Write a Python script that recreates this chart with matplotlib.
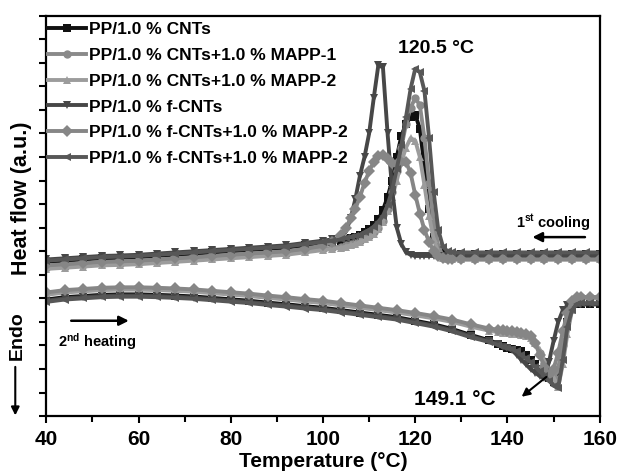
import matplotlib
matplotlib.use("Agg")
import matplotlib.pyplot as plt
from matplotlib.ticker import MultipleLocator

plt.rcParams["font.family"] = ["Liberation Sans", "DejaVu Sans"]
plt.rcParams["font.weight"] = "bold"
plt.rcParams["mathtext.fontset"] = "custom"
plt.rcParams["mathtext.rm"] = "Liberation Sans:bold"
plt.rcParams["mathtext.default"] = "rm"

# ---- data ----
labels = [
    "PP/1.0 % CNTs",
    "PP/1.0 % CNTs+1.0 % MAPP-1",
    "PP/1.0 % CNTs+1.0 % MAPP-2",
    "PP/1.0 % f-CNTs",
    "PP/1.0 % f-CNTs+1.0 % MAPP-2",
    "PP/1.0 % f-CNTs+1.0 % MAPP-2",
]
colors = ["#111111", "#8a8a8a", "#9c9c9c", "#474747", "#868686", "#575757"]
markers = ["s", "o", "^", "v", "D", "<"]

# 1st cooling
t_cool = ([40, 44, 48, 52, 56, 60, 64, 68, 72, 76, 80, 84, 88, 92, 96, 100, 102]
          + list(range(104, 129))
          + [130, 133, 136, 139, 142, 145, 148, 151, 154, 157, 160])

cool_cnt = [6.55, 6.6, 6.65, 6.7, 6.72, 6.75, 6.8, 6.85, 6.9, 6.95, 7.0, 7.05, 7.1, 7.15, 7.25, 7.35, 7.4,
            7.45, 7.5, 7.55, 7.6, 7.7, 7.8, 7.95, 8.1, 8.35, 8.75, 9.3, 10.0, 11.0, 11.9, 12.4, 12.7,
            12.8, 12.2, 10.6, 8.8, 7.6, 7.1, 6.95, 6.9, 6.9,
            6.9, 6.9, 6.9, 6.9, 6.9, 6.9, 6.9, 6.9, 6.9, 6.9, 6.9]
cool_mapp1 = [6.3, 6.35, 6.4, 6.45, 6.47, 6.5, 6.55, 6.6, 6.65, 6.7, 6.75, 6.8, 6.85, 6.9, 7.0, 7.1, 7.15,
              7.2, 7.25, 7.3, 7.35, 7.45, 7.55, 7.65, 7.8, 8.0, 8.3, 8.8, 9.5, 10.4, 11.4, 12.4, 13.1,
              13.5, 13.2, 11.8, 9.9, 8.2, 7.2, 6.8, 6.7, 6.7,
              6.7, 6.7, 6.7, 6.7, 6.7, 6.7, 6.7, 6.7, 6.7, 6.7, 6.7]
cool_mapp2 = [6.25, 6.3, 6.35, 6.4, 6.42, 6.45, 6.5, 6.55, 6.6, 6.65, 6.7, 6.75, 6.8, 6.85, 6.95, 7.05, 7.1,
              7.15, 7.2, 7.25, 7.3, 7.4, 7.5, 7.6, 7.75, 7.95, 8.25, 8.7, 9.3, 10.0, 10.8, 11.4, 11.8,
              11.7, 11.0, 9.8, 8.5, 7.5, 6.95, 6.7, 6.65, 6.65,
              6.65, 6.65, 6.65, 6.65, 6.65, 6.65, 6.65, 6.65, 6.65, 6.65, 6.65]
cool_fcnt = [6.65, 6.7, 6.75, 6.8, 6.82, 6.85, 6.9, 6.95, 7.0, 7.05, 7.1, 7.15, 7.2, 7.25, 7.35, 7.45, 7.5,
             7.6, 7.85, 8.4, 9.2, 10.2, 11.0, 12.0, 13.5, 14.9, 14.8, 12.0, 9.6, 8.0, 7.3, 6.95, 6.85,
             6.8, 6.8, 6.8, 6.8, 6.8, 6.8, 6.8, 6.8, 6.8,
             6.8, 6.8, 6.8, 6.8, 6.8, 6.8, 6.8, 6.8, 6.8, 6.8, 6.8]
cool_fmapp_a = [6.4, 6.45, 6.5, 6.55, 6.57, 6.6, 6.65, 6.7, 6.75, 6.8, 6.85, 6.9, 6.95, 7.0, 7.1, 7.25, 7.4,
                7.7, 8.0, 8.4, 8.8, 9.3, 9.9, 10.4, 10.8, 11.05, 11.1, 10.9, 10.75, 10.7, 10.8, 10.8, 10.3,
                9.4, 8.6, 7.9, 7.4, 7.0, 6.8, 6.7, 6.65, 6.65,
                6.65, 6.65, 6.65, 6.65, 6.65, 6.65, 6.65, 6.65, 6.65, 6.65, 6.65]
cool_fmapp_b = [6.6, 6.65, 6.7, 6.75, 6.77, 6.8, 6.85, 6.9, 6.95, 7.0, 7.05, 7.1, 7.15, 7.2, 7.3, 7.4, 7.45,
                7.5, 7.55, 7.6, 7.65, 7.7, 7.8, 7.9, 8.05, 8.25, 8.5, 8.95, 9.6, 10.5, 11.5, 12.7, 13.9,
                14.75, 14.6, 13.8, 11.8, 9.5, 7.9, 7.2, 7.0, 6.95,
                6.95, 6.95, 6.95, 6.95, 6.95, 6.95, 6.95, 6.95, 6.95, 6.95, 6.95]

# 2nd heating
t_heat = list(range(40, 137, 4)) + list(range(138, 157)) + [158, 160]

heat_cnt = [4.95, 5.05, 5.1, 5.15, 5.17, 5.17, 5.15, 5.12, 5.08, 5.02, 4.96, 4.9, 4.82, 4.75, 4.67, 4.6,
            4.5, 4.4, 4.3, 4.2, 4.05, 3.9, 3.7, 3.45, 3.22,
            3.08, 2.98, 2.9, 2.85, 2.8, 2.75, 2.6, 2.4, 2.2, 2.0, 1.8, 1.6, 1.45, 1.9, 3.0, 4.0, 4.6,
            4.75, 4.75, 4.75, 4.75]
heat_mapp1 = [5.2, 5.3, 5.35, 5.4, 5.42, 5.42, 5.4, 5.37, 5.33, 5.27, 5.21, 5.15, 5.07, 5.0, 4.92, 4.85,
              4.75, 4.65, 4.55, 4.45, 4.33, 4.2, 4.05, 3.85, 3.68,
              3.62, 3.6, 3.58, 3.55, 3.52, 3.5, 3.45, 3.35, 3.1, 2.7, 2.2, 1.8, 1.6, 2.0, 3.0, 4.1, 4.8,
              5.05, 5.05, 5.05, 5.05]
heat_mapp2 = [5.15, 5.25, 5.3, 5.35, 5.37, 5.37, 5.35, 5.32, 5.28, 5.22, 5.16, 5.1, 5.02, 4.95, 4.87, 4.8,
              4.7, 4.6, 4.5, 4.4, 4.28, 4.15, 4.0, 3.8, 3.63,
              3.57, 3.55, 3.53, 3.5, 3.48, 3.45, 3.4, 3.3, 3.1, 2.8, 2.4, 2.0, 1.6, 1.25, 2.2, 3.5, 4.5,
              4.95, 5.0, 5.0, 5.0]
heat_fcnt = [4.9, 5.0, 5.05, 5.1, 5.12, 5.12, 5.1, 5.07, 5.03, 4.97, 4.91, 4.85, 4.77, 4.7, 4.62, 4.55,
             4.45, 4.35, 4.25, 4.15, 4.0, 3.85, 3.65, 3.4, 3.18,
             3.05, 2.95, 2.9, 2.8, 2.6, 2.4, 2.2, 2.0, 1.85, 1.7, 1.6, 2.3, 3.2, 4.0, 4.5, 4.7, 4.75,
             4.75, 4.75, 4.75, 4.75]
heat_fmapp_a = [5.25, 5.35, 5.4, 5.45, 5.47, 5.47, 5.45, 5.42, 5.38, 5.32, 5.26, 5.2, 5.12, 5.05, 4.97, 4.9,
                4.8, 4.7, 4.6, 4.5, 4.38, 4.25, 4.1, 3.9, 3.72,
                3.67, 3.65, 3.62, 3.6, 3.58, 3.55, 3.5, 3.4, 3.1, 2.6, 2.1, 1.75, 2.0, 2.7, 3.6, 4.4, 4.9,
                5.05, 5.05, 5.05, 5.05]
heat_fmapp_b = [4.85, 4.95, 5.0, 5.05, 5.07, 5.07, 5.05, 5.02, 4.98, 4.92, 4.86, 4.8, 4.72, 4.65, 4.57, 4.5,
                4.4, 4.3, 4.2, 4.1, 3.95, 3.8, 3.6, 3.35, 3.15,
                3.02, 2.95, 2.9, 2.85, 2.75, 2.6, 2.45, 2.3, 2.1, 1.9, 1.7, 1.5, 1.3, 1.2, 2.4, 3.8, 4.5,
                4.75, 4.8, 4.8, 4.8]

cool_series = [cool_cnt, cool_mapp1, cool_mapp2, cool_fcnt, cool_fmapp_a, cool_fmapp_b]
heat_series = [heat_cnt, heat_mapp1, heat_mapp2, heat_fcnt, heat_fmapp_a, heat_fmapp_b]

# ---- figure ----
fig = plt.figure(figsize=(6.17, 4.74), dpi=100)
ax = fig.add_axes([0.075, 0.122, 0.897, 0.845])

for i in range(len(labels)):
    ax.plot(t_cool, cool_series[i], color=colors[i], marker=markers[i], ms=6,
            mew=0, lw=2.8, label=labels[i])
    ax.plot(t_heat, heat_series[i], color=colors[i], marker=markers[i], ms=6,
            mew=0, lw=2.8)

ax.set_xlim(40, 160)
ax.set_ylim(0, 17)
ax.xaxis.set_major_locator(MultipleLocator(20))
ax.xaxis.set_minor_locator(MultipleLocator(10))
ax.yaxis.set_major_locator(MultipleLocator(1))
ax.set_yticklabels([])
ax.tick_params(axis="x", which="major", direction="out", length=5, width=1.5,
               labelsize=15, pad=5)
ax.tick_params(axis="x", which="minor", direction="out", length=4, width=1.5)
ax.tick_params(axis="y", direction="out", length=5, width=1.5)
for lab in ax.get_xticklabels():
    lab.set_fontweight("bold")
for s in ax.spines.values():
    s.set_linewidth(1.6)

ax.set_xlabel("Temperature (°C)", fontsize=15, fontweight="bold", labelpad=2)

# y-axis labels drawn by hand
ax.text(-0.045, 0.545, "Heat flow (a.u.)", transform=ax.transAxes, rotation=90,
        ha="center", va="center", fontsize=15.5, fontweight="bold")
ax.text(-0.052, 0.2, "Endo", transform=ax.transAxes, rotation=90,
        ha="center", va="center", fontsize=14, fontweight="bold")
ax.annotate("", xy=(-0.056, -0.005), xytext=(-0.056, 0.13), xycoords="axes fraction",
            arrowprops=dict(arrowstyle="-|>", color="black", lw=1.5, mutation_scale=12),
            annotation_clip=False)

# annotations
ax.text(116.3, 15.6, "120.5 °C", fontsize=14, fontweight="bold", va="center")
ax.text(119.8, 0.72, "149.1 °C", fontsize=15, fontweight="bold", va="center")
ax.annotate("", xy=(142.6, 0.75), xytext=(148.9, 1.74),
            arrowprops=dict(arrowstyle="-|>", color="black", lw=1.5, mutation_scale=12))
ax.text(150.0, 8.2, r"1$^{\rm st}$ cooling", fontsize=10.5, fontweight="bold",
        ha="center", va="center")
ax.annotate("", xy=(144.8, 7.6), xytext=(157.4, 7.6),
            arrowprops=dict(arrowstyle="-|>", color="black", lw=1.8, mutation_scale=14))
ax.text(42.6, 3.15, r"2$^{\rm nd}$ heating", fontsize=10.5, fontweight="bold",
        ha="left", va="center")
ax.annotate("", xy=(58.5, 4.05), xytext=(44.8, 4.05),
            arrowprops=dict(arrowstyle="-|>", color="black", lw=1.8, mutation_scale=14))

ax.legend(loc="upper left", bbox_to_anchor=(0.0, 0.988), frameon=False,
          handlelength=2.2, handletextpad=0.15, labelspacing=0.61, borderaxespad=0.0,
          borderpad=0.1, prop={"weight": "bold", "size": 12.5})

fig.savefig("out.png", dpi=100)
